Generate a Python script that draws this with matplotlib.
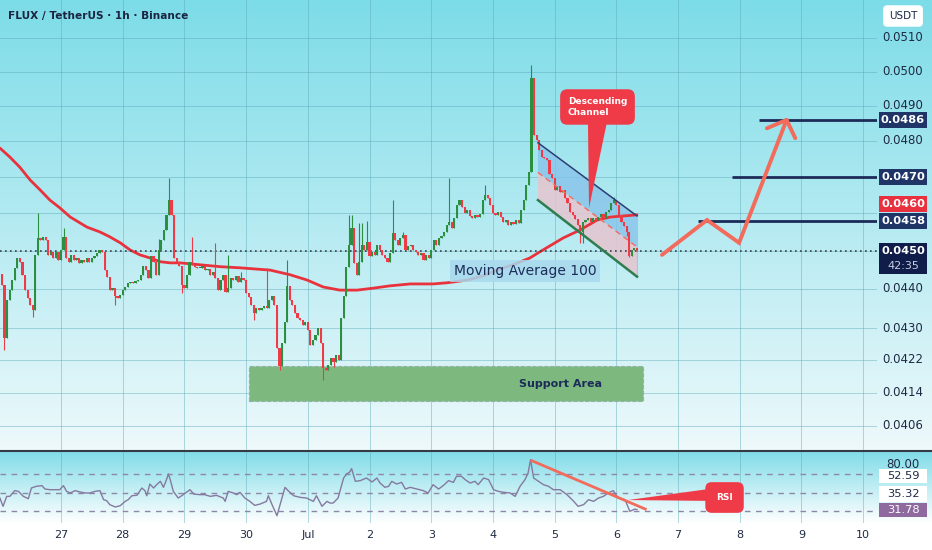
import matplotlib
matplotlib.use('Agg')
import matplotlib.pyplot as plt
import matplotlib.colors as mcolors
import numpy as np
from matplotlib.patches import Rectangle, Polygon
from matplotlib.lines import Line2D

W, H = 932, 550

# FLUX / USDT hourly closes (in 1e-5 USDT), first candle Jun 26 01:00
closes = [
    4410, 4275, 4372, 4397, 4423, 4454, 4481, 4471, 4436, 4397,
    4377, 4359, 4346, 4489, 4534, 4529, 4537, 4529, 4489, 4497,
    4481, 4497, 4476, 4502, 4537, 4481, 4471, 4489, 4476, 4481,
    4468, 4476, 4471, 4481, 4471, 4481, 4487, 4494, 4502, 4497,
    4449, 4431, 4397, 4402, 4382, 4377, 4385, 4397, 4405, 4415,
    4418, 4415, 4420, 4423, 4436, 4460, 4449, 4428, 4487, 4471,
    4436, 4502, 4529, 4555, 4596, 4636, 4596, 4481, 4471, 4460,
    4410, 4402, 4436, 4471, 4463, 4457, 4455, 4455, 4460, 4449,
    4452, 4436, 4444, 4428, 4397, 4423, 4436, 4392, 4402, 4428,
    4423, 4434, 4418, 4428, 4423, 4390, 4380, 4359, 4339, 4351,
    4346, 4351, 4356, 4351, 4372, 4382, 4359, 4249, 4205, 4263,
    4315, 4408, 4372, 4359, 4339, 4326, 4320, 4307, 4315, 4295,
    4258, 4270, 4282, 4300, 4263, 4200, 4195, 4208, 4225, 4215,
    4232, 4220, 4326, 4382, 4457, 4515, 4561, 4468, 4436, 4471,
    4515, 4502, 4523, 4487, 4497, 4489, 4515, 4502, 4489, 4481,
    4471, 4494, 4547, 4529, 4515, 4534, 4542, 4502, 4513, 4515,
    4502, 4497, 4489, 4494, 4476, 4489, 4481, 4502, 4529, 4515,
    4534, 4539, 4550, 4569, 4577, 4561, 4587, 4623, 4636, 4618,
    4601, 4609, 4593, 4587, 4596, 4590, 4598, 4636, 4650, 4642,
    4623, 4601, 4596, 4604, 4590, 4577, 4582, 4569, 4577, 4571,
    4582, 4574, 4609, 4636, 4677, 4712, 4981, 4817, 4804, 4776,
    4755, 4752, 4748, 4707, 4696, 4664, 4674, 4658, 4664, 4642,
    4628, 4604, 4596, 4585, 4569, 4550, 4577, 4582, 4587, 4577,
    4587, 4582, 4590, 4598, 4587, 4604, 4609, 4628, 4636, 4623,
    4596, 4577, 4566, 4550, 4487, 4502, 4508, 4500,
]
first_open = 4440
# only the visible long wicks
wick_high = {14: 4601, 24: 4560, 61: 4530, 65: 4696, 74: 4537, 83: 4521, 88: 4489,
             93: 4444, 103: 4455, 111: 4476, 135: 4596, 136: 4596, 139: 4574,
             140: 4574, 142: 4580, 152: 4636, 156: 4550, 174: 4696, 188: 4677,
             206: 5020, 238: 4645}
wick_low = {1: 4246, 12: 4328, 44: 4359, 70: 4390, 98: 4320, 108: 4195, 125: 4171,
            129: 4202, 225: 4521, 226: 4521, 243: 4540, 244: 4484}

# Moving Average 100 (days from Jun 27 00:00, price in 1e-5)
ma_days = [-0.99, -0.83, -0.67, -0.50, -0.34, -0.18, -0.02, 0.15, 0.31, 0.42, 0.63,
           0.79, 0.96, 1.12, 1.28, 1.44, 1.61, 1.77, 1.93, 2.25, 2.58, 2.90, 3.39,
           3.71, 3.99, 4.25, 4.52, 4.80, 5.06, 5.33, 5.66, 6.03, 6.26, 6.58, 6.84,
           7.07, 7.36, 7.60, 7.76, 8.14, 8.41, 8.69, 8.90, 9.335]
ma_vals = [4780, 4755, 4727, 4691, 4664, 4636, 4615, 4590, 4574, 4563, 4550,
           4537, 4521, 4502, 4489, 4481, 4471, 4468, 4468, 4463, 4458, 4455, 4449,
           4437, 4423, 4405, 4397, 4397, 4402, 4408, 4413, 4413, 4416, 4423, 4434,
           4449, 4465, 4481, 4497, 4534, 4555, 4582, 4590, 4596]

# RSI(14)
rsi_days = [-0.99, -0.94, -0.88, -0.83, -0.75, -0.69, -0.61, -0.53, -0.48, -0.40,
            -0.31, -0.26, -0.18, -0.10, -0.02, 0.04, 0.09, 0.15, 0.23, 0.31,
            0.39, 0.47, 0.55, 0.63, 0.69, 0.74, 0.79, 0.88, 0.96, 1.04,
            1.09, 1.15, 1.23, 1.31, 1.36, 1.39, 1.44, 1.50, 1.55, 1.61,
            1.66, 1.71, 1.74, 1.77, 1.82, 1.90, 1.98, 2.09, 2.15, 2.25,
            2.33, 2.42, 2.52, 2.63, 2.66, 2.71, 2.79, 2.85, 2.90, 2.98,
            3.06, 3.14, 3.23, 3.33, 3.36, 3.42, 3.50, 3.55, 3.63, 3.68,
            3.77, 3.87, 3.98, 4.09, 4.14, 4.23, 4.31, 4.36, 4.41, 4.49,
            4.58, 4.63, 4.68, 4.71, 4.77, 4.85, 4.95, 5.04, 5.12, 5.17,
            5.25, 5.31, 5.36, 5.44, 5.52, 5.58, 5.66, 5.77, 5.87, 5.95,
            6.03, 6.12, 6.20, 6.28, 6.36, 6.41, 6.49, 6.55, 6.63, 6.71,
            6.76, 6.85, 6.93, 7.01, 7.09, 7.17, 7.28, 7.36, 7.44, 7.52,
            7.57, 7.61, 7.66, 7.74, 7.82, 7.90, 7.98, 8.09, 8.20, 8.30,
            8.38, 8.47, 8.55, 8.63, 8.71, 8.79, 8.87, 8.95, 9.03, 9.14,
            9.22, 9.30, 9.335]
rsi_vals = [44.1, 35.3, 45.9, 45.9, 52.0, 51.2, 45.9, 43.4, 54.8, 56.6,
            57.3, 53.7, 53.0, 53.0, 53.0, 57.3, 51.2, 49.5, 52.0, 50.5,
            49.5, 49.5, 51.2, 52.0, 42.4, 41.3, 37.1, 34.6, 36.0, 40.6,
            42.4, 46.6, 47.0, 54.8, 52.0, 46.6, 59.0, 54.8, 58.3, 61.9,
            55.5, 63.7, 69.7, 63.7, 51.2, 44.1, 47.7, 53.0, 48.4, 47.7,
            47.7, 45.9, 47.0, 44.1, 40.6, 51.2, 49.5, 47.7, 50.2, 44.1,
            40.6, 36.3, 37.8, 40.6, 46.6, 37.1, 25.4, 37.1, 55.5, 52.0,
            46.6, 44.9, 44.1, 40.6, 46.6, 35.3, 40.6, 38.8, 38.8, 44.1,
            65.4, 69.7, 71.8, 75.4, 61.9, 62.6, 65.4, 61.2, 65.4, 60.1,
            55.5, 56.6, 61.9, 59.0, 60.8, 53.7, 55.5, 53.7, 52.0, 49.5,
            58.3, 53.7, 57.6, 62.6, 60.8, 67.2, 67.2, 63.7, 60.1, 61.9,
            58.3, 65.4, 63.7, 53.0, 51.2, 50.2, 49.5, 45.9, 56.6, 63.7,
            70.7, 84.9, 65.4, 61.9, 58.3, 56.6, 53.0, 53.0, 47.7, 41.3,
            35.3, 37.1, 42.4, 40.6, 44.1, 45.9, 49.5, 52.0, 44.1, 42.4,
            30.0, 32.4, 31.8]

price_ticks = [0.0510, 0.0500, 0.0490, 0.0480, 0.0440, 0.0430, 0.0422, 0.0414, 0.0406]
grid_prices = [0.0510, 0.0500, 0.0490, 0.0480, 0.0470, 0.0460, 0.0450, 0.0440,
               0.0430, 0.0422, 0.0414, 0.0406]
day_labels = ['27', '28', '29', '30', 'Jul', '2', '3', '4', '5', '6', '7', '8', '9', '10']

last_price = 0.0450
ma_last = 0.0460
targets = [0.0486, 0.0470, 0.0458]
target_start = [11.31, 10.88, 10.32]

# drawings
chan_days = [7.73, 9.335]
chan_upper = [0.04795, 0.04593]
chan_mid = [0.04712, 0.04510]
chan_lower = [0.04636, 0.04432]
support = (3.05, 9.43, 0.04119, 0.04205)
path_days = [9.74, 10.47, 10.99, 11.76]
path_vals = [0.04489, 0.04582, 0.04521, 0.04860]
head_days = [11.44, 11.76, 11.90]
head_vals = [0.04836, 0.04860, 0.04808]
rsi_trend_days = [7.63, 9.47]
rsi_trend_vals = [83.8, 32.4]
rsi_right_labels = ['80.00', '52.59', '35.32', '31.78']
rsi_label_pos = [80, 67.5, 48.4, 31.4]

NAVY = '#1c2b58'
RED = '#ef3a47'
GREEN = '#2b8f3f'
SALMON = '#f26b5b'

fig = plt.figure(figsize=(W / 100, H / 100), dpi=100)

# background gradients
bg = fig.add_axes([0, 0, 1, 1])
bg.axis('off')


def vgrad(top, bottom, y0, y1):
    s = np.linspace(0, 1, 256)[:, None, None]
    a = np.array(mcolors.to_rgb(top))[None, None, :]
    b = np.array(mcolors.to_rgb(bottom))[None, None, :]
    img = a * (1 - s) + b * s
    bg.imshow(img, extent=(0, W, y1, y0), aspect='auto', interpolation='bilinear')


vgrad('#7cdce8', '#eef9fb', 0, 451)
vgrad('#7fdce8', '#ffffff', 451, 523)
bg.add_patch(Rectangle((0, 523), W, H - 523, fc='white', ec='none'))
bg.set_xlim(0, W)
bg.set_ylim(H, 0)

xlim = (-0.989, 13.225)

# ---- main price panel
ax = fig.add_axes([0, 1 - 451 / H, 877 / W, 451 / H])
ax.set_facecolor('none')
ax.set_yscale('log')
ax.set_xlim(*xlim)
ax.set_ylim(0.0400, 0.05215)
for s in ax.spines.values():
    s.set_visible(False)
ax.set_xticks([])
ax.set_yticks([])
ax.set_yticks([], minor=True)

grid_c = '#5aa9b6'
for p in grid_prices:
    ax.axhline(p, color=grid_c, lw=0.7, alpha=0.45, zorder=0)
for d in range(14):
    ax.axvline(d, color=grid_c, lw=0.7, alpha=0.45, zorder=0)

# support area
sx0, sx1, sy0, sy1 = support
ax.add_patch(Rectangle((sx0, sy0), sx1 - sx0, sy1 - sy0, fc='#7db97f', ec='#8fb3a6',
                       lw=0.8, ls='--', zorder=1))
ax.text((sx0 + sx1) / 2 + 1.85, np.sqrt(sy0 * sy1), 'Support Area', ha='center', va='center',
        fontsize=8, fontweight='bold', color=NAVY, zorder=7)

# descending channel
ax.add_patch(Polygon([(chan_days[0], chan_upper[0]), (chan_days[1], chan_upper[1]),
                      (chan_days[1], chan_mid[1]), (chan_days[0], chan_mid[0])],
                     closed=True, fc='#86c1ea', ec='none', alpha=0.75, zorder=2))
ax.add_patch(Polygon([(chan_days[0], chan_mid[0]), (chan_days[1], chan_mid[1]),
                      (chan_days[1], chan_lower[1]), (chan_days[0], chan_lower[0])],
                     closed=True, fc='#e6c5cf', ec='none', alpha=0.85, zorder=2))
ax.plot([chan_days[1], chan_days[1]], [chan_upper[1], chan_lower[1]], color='#9cc9e6', lw=0.8, zorder=2)

# moving average
ax.plot(ma_days, np.array(ma_vals) / 1e5, color='#e8333d', lw=2, zorder=3,
        solid_capstyle='round')

# candles
n = len(closes)
t = -23 / 24 + np.arange(n) / 24
c = np.array(closes) / 1e5
o = np.array([first_open] + closes[:-1]) / 1e5
hi = np.maximum(o, c)
lo = np.minimum(o, c)
for k, v in wick_high.items():
    hi[k] = v / 1e5
for k, v in wick_low.items():
    lo[k] = v / 1e5
cols = np.where(c >= o, GREEN, RED)
ax.vlines(t, lo, hi, colors=cols, lw=0.8, zorder=4)
ax.bar(t, np.maximum(np.abs(c - o), 0.000015), bottom=np.minimum(o, c), width=0.85 / 24,
       color=cols, linewidth=0, zorder=4)

# channel borders
ax.plot(chan_days, chan_upper, color='#2b3f73', lw=1.1, zorder=5)
ax.plot(chan_days, chan_lower, color='#2e7d4f', lw=1.8, zorder=5)
ax.plot(chan_days, chan_mid, color=SALMON, lw=1, ls=(0, (4, 3)), zorder=5)

# current price line
ax.axhline(last_price, color='#3b3f4f', lw=1.2, ls=(0, (1, 2)), zorder=3)

ax.text(7.52, 0.04447, 'Moving Average 100', ha='center', va='center', fontsize=10,
        color=NAVY, zorder=6,
        bbox=dict(boxstyle='square,pad=0.28', fc='#a8d9ee', ec='none', alpha=0.85))

# callout "Descending Channel"
ax.add_patch(Polygon([(8.54, 0.04855), (8.85, 0.04855), (8.558, 0.04615)], closed=True,
                     fc=RED, ec='none', zorder=7))
ax.text(8.695, 0.04897, 'Descending\nChannel', ha='center', va='center', fontsize=6.5,
        fontweight='bold', color='white', linespacing=1.3, multialignment='left', zorder=8,
        bbox=dict(boxstyle='round,pad=0.85,rounding_size=0.8', fc=RED, ec='none'))

# targets and projected path
for p, d0 in zip(targets, target_start):
    ax.hlines(p, d0, xlim[1], color=NAVY, lw=2, zorder=5)
ax.plot(path_days, path_vals, color=SALMON, lw=2.8, solid_capstyle='round',
        solid_joinstyle='miter', zorder=6)
ax.plot(head_days, head_vals, color=SALMON, lw=2.8, solid_capstyle='round', zorder=6)

# ---- RSI panel
rax = fig.add_axes([0, 1 - 523 / H, 877 / W, 72 / H])
rax.set_facecolor('none')
rax.set_xlim(*xlim)
rax.set_ylim(17.6, 94.1)
for s in rax.spines.values():
    s.set_visible(False)
rax.set_xticks([])
rax.set_yticks([])
for d in range(14):
    rax.axvline(d, color=grid_c, lw=0.7, alpha=0.45, zorder=0)
for v in (70, 50, 30):
    rax.axhline(v, color='#8d88a8', lw=1, ls=(0, (4, 4)), zorder=1)
rax.plot(rsi_days, rsi_vals, color='#85799f', lw=1, zorder=3)
rax.plot(rsi_trend_days, rsi_trend_vals, color=SALMON, lw=2, zorder=4)
rax.add_patch(Polygon([(9.19, 42.0), (10.62, 54.8), (10.62, 41.0)], closed=True,
                      fc=RED, ec='none', zorder=5))
rax.text(10.754, 44.7, 'RSI', ha='center', va='center', fontsize=6.5, fontweight='bold',
         color='white', zorder=6,
         bbox=dict(boxstyle='round,pad=1.2,rounding_size=0.7', fc=RED, ec='none'))

# panel separator
fig.add_artist(Line2D([0, 1], [1 - 451 / H] * 2, transform=fig.transFigure,
                      color='#363a45', lw=1.5))


# ---- right price scale
def ypix(axis, val):
    return axis.transData.transform((0, val))[1]


def scale_text(y, s, color='#1e2a44', weight='normal'):
    fig.text(903 / W, y / H, s, ha='center', va='center', fontsize=8.5,
             color=color, fontweight=weight)


def scale_box(y, s, fc, tc='white', top=8, bottom=8, weight='bold'):
    fig.add_artist(Rectangle((879 / W, (y - bottom) / H), 48 / W, (top + bottom) / H,
                             transform=fig.transFigure, fc=fc, ec='none'))
    fig.text(903 / W, y / H, s, ha='center', va='center', fontsize=8.2,
             color=tc, fontweight=weight)


for p in price_ticks:
    scale_text(ypix(ax, p), '%.4f' % p)

scale_box(ypix(ax, targets[0]), '%.4f' % targets[0], '#1f3568')
scale_box(ypix(ax, targets[1]), '%.4f' % targets[1], '#1f3568')
y458 = ypix(ax, targets[2])
scale_box(y458, '%.4f' % targets[2], '#1f3568')
scale_box(y458 + 16.5, '%.4f' % ma_last, '#e8303f')
ylp = ypix(ax, last_price)
scale_box(ylp, '%.4f' % last_price, '#101d4a', top=8, bottom=23)
fig.text(903 / W, (ylp - 15) / H, '42:35', ha='center', va='center', fontsize=8,
         color='#c9cde0')

fig.text(903 / W, 1 - 16 / H, 'USDT', ha='center', va='center', fontsize=7.5,
         color='#1e2a44',
         bbox=dict(boxstyle='round,pad=0.55,rounding_size=0.4', fc='white', ec='none'))

# RSI scale labels
ry = [ypix(rax, v) for v in rsi_label_pos]
scale_text(ry[0], rsi_right_labels[0])
scale_box(ry[1], rsi_right_labels[1], 'white', tc='#1e2a44', top=7, bottom=7, weight='normal')
scale_box(ry[2], rsi_right_labels[2], 'white', tc='#1e2a44', top=8, bottom=8, weight='normal')
scale_box(ry[3], rsi_right_labels[3], '#8e6a9f', top=7, bottom=7, weight='normal')

# date axis
for i, lab in enumerate(day_labels):
    xd = rax.transData.transform((i, 0))[0]
    fig.text(xd / W, 15 / H, lab, ha='center', va='center', fontsize=8, color='#1e2a44')

# title
fig.text(8 / W, 1 - 16 / H, 'FLUX / TetherUS \u00b7 1h \u00b7 Binance', ha='left', va='center',
         fontsize=7.6, fontweight='bold', color='#1b2440')

fig.savefig('out.png', dpi=100)
